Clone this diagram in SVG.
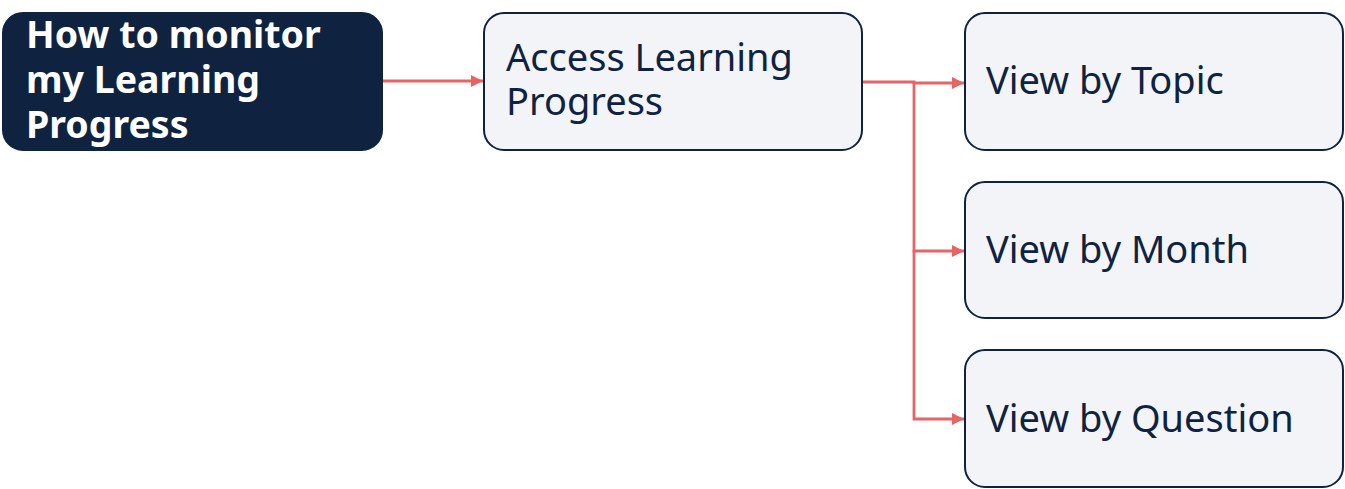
<svg xmlns="http://www.w3.org/2000/svg" width="1345" height="489" viewBox="0 0 1345 489">
<style>
.light{fill:#f3f4f8;stroke:#0f2340;stroke-width:2}
.dark{fill:#0f2340;stroke:#0f2340;stroke-width:2}
.t{font-family:"Noto Sans","Open Sans",sans-serif;font-size:38px;fill:#0f2340}
.tb{font-family:"Noto Sans","Open Sans",sans-serif;font-size:37.5px;font-weight:bold;fill:#ffffff}
.c{fill:none;stroke:#e86464;stroke-width:2.8}
</style>
<defs>
<marker id="arr" markerWidth="12" markerHeight="12" refX="12" refY="6" orient="auto" markerUnits="userSpaceOnUse">
<path d="M0,0 L12,6 L0,12 Z" fill="#e86464"/>
</marker>
</defs>
<g id="connectors">
<path class="c" d="M382,81 H483" marker-end="url(#arr)"/>
<path class="c" d="M862,82 H914 V83 H964" marker-end="url(#arr)"/>
<path class="c" d="M914,82 V251 H964" marker-end="url(#arr)"/>
<path class="c" d="M914,250 V419 H964" marker-end="url(#arr)"/>
</g>
<g id="node-monitor">
<rect class="dark" x="3" y="13" width="379" height="137" rx="20"/>
<text class="tb" x="26" y="48">How to monitor</text>
<text class="tb" x="26" y="93">my Learning</text>
<text class="tb" x="26" y="138">Progress</text>
</g>
<g id="node-access">
<rect class="light" x="484" y="13" width="378" height="137" rx="20"/>
<text class="t" x="506" y="71">Access Learning</text>
<text class="t" x="506" y="115">Progress</text>
</g>
<g id="node-topic">
<rect class="light" x="965" y="13" width="378" height="137" rx="20"/>
<text class="t" x="986" y="94">View by Topic</text>
</g>
<g id="node-month">
<rect class="light" x="965" y="182" width="378" height="136" rx="20"/>
<text class="t" x="986" y="263">View by Month</text>
</g>
<g id="node-question">
<rect class="light" x="965" y="350" width="378" height="137" rx="20"/>
<text class="t" x="986" y="432">View by Question</text>
</g>
</svg>
